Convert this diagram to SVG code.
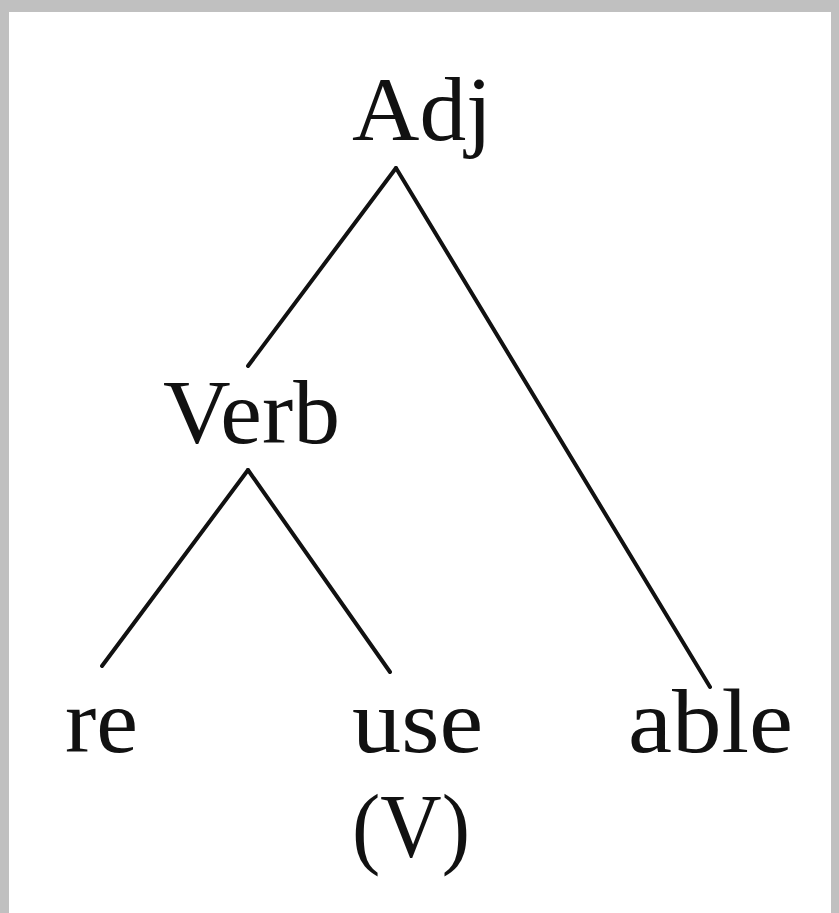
<svg xmlns="http://www.w3.org/2000/svg" width="839" height="913" viewBox="0 0 839 913">
<style>
.lbl{font-family:"Liberation Serif","Times New Roman",serif;font-size:92px;fill:#111}
.edge{stroke:#111;stroke-width:4;stroke-linecap:round;fill:none}
</style>
<rect x="0" y="0" width="839" height="913" fill="#c0c0c0"/>
<rect x="9" y="12" width="822" height="901" fill="#ffffff"/>
<g id="connectors">
<line class="edge" x1="396" y1="168" x2="248" y2="366"/>
<line class="edge" x1="396" y1="168" x2="710" y2="687"/>
<line class="edge" x1="248" y1="470" x2="102" y2="666"/>
<line class="edge" x1="248" y1="470" x2="390" y2="672"/>
</g>
<g id="node-adj"><text class="lbl" x="352" y="140" textLength="140" lengthAdjust="spacingAndGlyphs">Adj</text></g>
<g id="node-verb"><text class="lbl" x="163" y="443" textLength="177" lengthAdjust="spacingAndGlyphs">Verb</text></g>
<g id="node-re"><text class="lbl" x="65" y="752" textLength="73" lengthAdjust="spacingAndGlyphs">re</text></g>
<g id="node-use"><text class="lbl" x="352" y="752" textLength="131" lengthAdjust="spacingAndGlyphs">use</text>
<text class="lbl" x="352" y="857" textLength="118" lengthAdjust="spacingAndGlyphs">(V)</text></g>
<g id="node-able"><text class="lbl" x="628" y="752" textLength="165" lengthAdjust="spacingAndGlyphs">able</text></g>
</svg>
